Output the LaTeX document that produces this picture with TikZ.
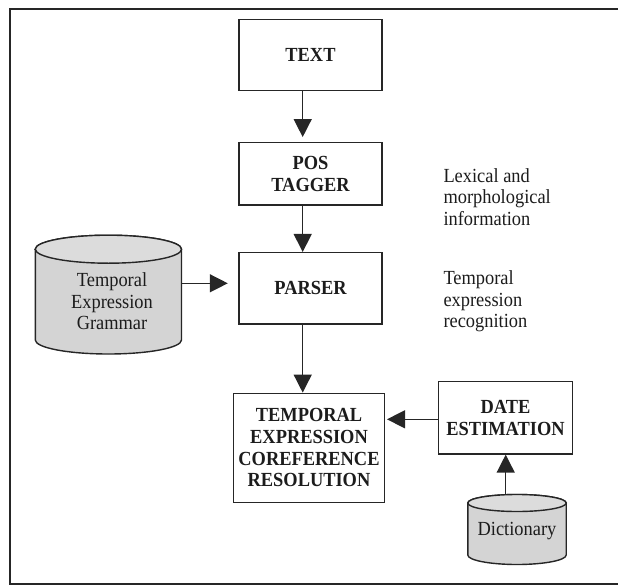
\documentclass[tikz,border=0pt]{standalone}
\usepackage{fontspec}
\setmainfont{Liberation Serif}[FakeStretch=0.92]
\usetikzlibrary{arrows.meta}
\definecolor{ink}{HTML}{262626}
\definecolor{txt}{HTML}{1C1C1C}
\definecolor{cylbody}{HTML}{D4D4D4}
\definecolor{cyltop}{HTML}{DCDCDC}
\tikzset{
  boxnode/.style={draw=ink, line width=1.4pt, inner sep=0pt, align=center, text=txt,
    font=\bfseries\fontsize{20}{21.6}\selectfont},
  lbl/.style={inner sep=0pt, align=center, text=txt, font=\fontsize{20}{21.6}\selectfont},
  side/.style={inner sep=0pt, align=left, anchor=west, text=txt, font=\fontsize{20}{21.6}\selectfont},
  arr/.style={draw=ink, line width=1.4pt, -{Triangle[length=18pt,width=18pt]}},
  cyl/.style={draw=ink, line width=1.4pt}
}
\begin{document}
\begin{tikzpicture}[x=1pt,y=-1pt]
\useasboundingbox (0,0) rectangle (618,586);
% frame (open on the right, as in the scan)
\draw[ink, line width=2pt] (618,9.5) -- (10,9.5) -- (10,584) -- (618,584);

% boxes
\node[boxnode, minimum width=143pt, minimum height=71.4pt] (text) at (310.5,55) {TEXT};
\node[boxnode, minimum width=143pt, minimum height=62.3pt] (pos) at (310.5,173.9) {POS\\TAGGER};
\node[boxnode, minimum width=143pt, minimum height=71.3pt] (parser) at (310.5,288.3) {PARSER};
\node[boxnode, minimum width=150.6pt, minimum height=109pt] (coref) at (309,447.8) {TEMPORAL\\EXPRESSION\\COREFERENCE\\RESOLUTION};
\node[boxnode, minimum width=134pt, minimum height=72.3pt] (date) at (505.5,417.8) {DATE\\ESTIMATION};

% side labels
\node[side] (lexinfo) at (443.3,197) {Lexical and\\morphological\\information};
\node[side] (recog) at (443.3,301.5) {Temporal\\expression\\recognition};

% grammar cylinder
\draw[cyl, fill=cylbody] (35.3,249.2) -- (35.3,340)
  arc[start angle=180, end angle=0, x radius=73.1, y radius=14] -- (181.5,249.2)
  arc[start angle=0, end angle=-180, x radius=73.1, y radius=14] -- cycle;
\draw[cyl, fill=cyltop] (108.4,249.2) ellipse[x radius=73.1, y radius=14];
\node[lbl] (gram) at (112,301.5) {Temporal\\Expression\\Grammar};
\coordinate (gramE) at (181.5,283.3);

% dictionary cylinder
\draw[cyl, fill=cylbody] (467.8,503) -- (467.8,555)
  arc[start angle=180, end angle=0, x radius=49.2, y radius=9.5] -- (566.2,503)
  arc[start angle=0, end angle=-180, x radius=49.2, y radius=8.5] -- cycle;
\draw[cyl, fill=cyltop] (517,503) ellipse[x radius=49.2, y radius=8.5];
\node[lbl] (dict) at (517,531) {Dictionary};
\coordinate (dictN) at (505.7,494.5);

% connectors
\draw[arr, shorten >=5pt] ([xshift=-7.8pt]text.south) -- ([xshift=-7.8pt]pos.north);
\draw[arr] ([xshift=-7.8pt]pos.south) -- ([xshift=-7.8pt]pos.south |- parser.north);
\draw[arr] ([xshift=-7.8pt]parser.south) -- ([xshift=-7.8pt]parser.south |- coref.north);
\draw[arr, shorten >=10.5pt] (gramE) -- (gramE -| parser.west);
\draw[arr, shorten >=2pt] (date.west |- 0,419.3) -- (coref.east |- 0,419.3);
\draw[arr] (dictN) -- (dictN |- date.south);
\end{tikzpicture}
\end{document}
